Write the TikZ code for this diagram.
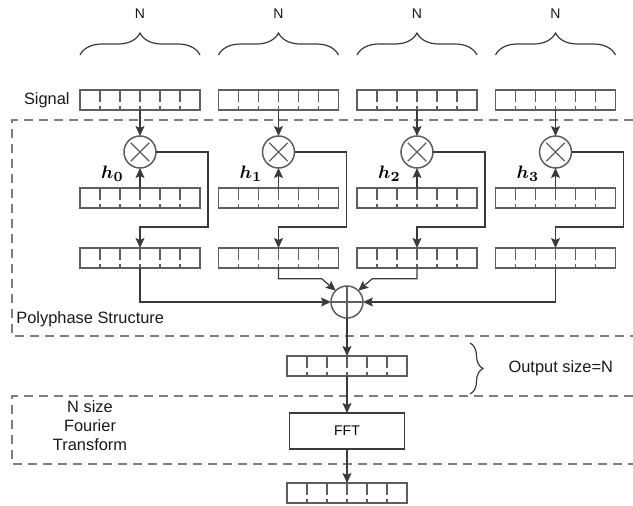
\documentclass[tikz,border=0pt]{standalone}
\usepackage{amsmath,amssymb}
\usepackage{fontspec}
\setmainfont{Liberation Sans}
\usetikzlibrary{positioning,calc,arrows.meta,decorations.pathreplacing}

\definecolor{cellgray}{HTML}{5E5E5E}
\definecolor{wiregray}{HTML}{3A3A3A}
\definecolor{zonegray}{HTML}{7E7E7E}

\tikzset{
  arr/.style={draw=cellgray, line width=0.75pt, rectangle, minimum width=60pt, minimum height=10pt, inner sep=0pt, outer sep=0pt,
    path picture={
      \foreach \k in {1,...,5}
        \draw[cellgray, line width=0.6pt, dash pattern=on 6pt off 2pt on 2pt off 1pt]
          ($(path picture bounding box.north west)!\k/6!(path picture bounding box.north east)$) -- ++(0,-10pt);
    }},
  mulnode/.style={circle, draw=cellgray, line width=0.75pt, minimum size=16pt, inner sep=0pt, outer sep=0pt,
    path picture={
      \draw[cellgray, line width=0.7pt] ($(path picture bounding box.center)+(45:6.5pt)$) -- ($(path picture bounding box.center)+(225:6.5pt)$);
      \draw[cellgray, line width=0.7pt] ($(path picture bounding box.center)+(135:6.5pt)$) -- ($(path picture bounding box.center)+(315:6.5pt)$);
    }},
  sumnode/.style={circle, draw=cellgray, line width=0.75pt, minimum size=16pt, inner sep=0pt, outer sep=0pt,
    path picture={
      \draw[cellgray, line width=0.7pt] (path picture bounding box.north) -- (path picture bounding box.south);
      \draw[cellgray, line width=0.7pt] (path picture bounding box.west) -- (path picture bounding box.east);
    }},
  blk/.style={draw=wiregray, line width=0.75pt, rectangle, minimum width=57.5pt, minimum height=18pt, inner sep=0pt, outer sep=0pt, font=\fontsize{7}{8}\selectfont},
  conn/.style={draw=wiregray, line width=0.6pt, -{Stealth[length=5pt,width=4.5pt,inset=1pt]}},
  zone/.style={draw=zonegray, line width=1pt, dash pattern=on 4.5pt off 3pt},
  topbrace/.style={draw=wiregray, line width=0.6pt, decorate, decoration={brace, amplitude=11pt}},
  outbrace/.style={draw=wiregray, line width=0.6pt, decorate, decoration={brace, amplitude=6.5pt}},
  lbl/.style={font=\fontsize{8.2}{9.5}\selectfont, text=black!90, inner sep=0pt},
  nlab/.style={font=\fontsize{7}{8}\selectfont, text=black!90, inner sep=0pt},
  hlab/.style={font=\fontsize{9.5}{10}\selectfont, inner sep=0pt}
}

\begin{document}
\begin{tikzpicture}[x=0.5pt, y=-0.5pt]
  \useasboundingbox (0,0) rectangle (633,505);

  % dashed groups
  \draw[zone] (633,120) -| (12,336) -- (633,336);
  \draw[zone] (633,396) -| (12,464) -- (633,464);

  % input blocks
  \node[arr] (sig0) at (140,100) {};
  \node[arr, right=9.25pt of sig0] (sig1) {};
  \node[arr, right=9.25pt of sig1] (sig2) {};
  \node[arr, right=9.25pt of sig2] (sig3) {};
  \node[lbl, left=5pt of sig0] (siglab) {Signal};

  % multipliers, coefficients and delayed blocks
  \node[mulnode, below=13pt of sig0] (mul0) {};
  \node[mulnode, below=13pt of sig1] (mul1) {};
  \node[mulnode, below=13pt of sig2] (mul2) {};
  \node[mulnode, below=13pt of sig3] (mul3) {};
  \node[arr, below=10pt of mul0] (coef0) {};
  \node[arr, below=10pt of mul1] (coef1) {};
  \node[arr, below=10pt of mul2] (coef2) {};
  \node[arr, below=10pt of mul3] (coef3) {};
  \node[arr, below=20pt of coef0] (buf0) {};
  \node[arr, below=20pt of coef1] (buf1) {};
  \node[arr, below=20pt of coef2] (buf2) {};
  \node[arr, below=20pt of coef3] (buf3) {};
  \node[hlab, above left=3pt and 8pt of coef0.north] (h0) {$\boldsymbol{h_0}$};
  \node[hlab, above left=3pt and 8pt of coef1.north] (h1) {$\boldsymbol{h_1}$};
  \node[hlab, above left=3pt and 8pt of coef2.north] (h2) {$\boldsymbol{h_2}$};
  \node[hlab, above left=3pt and 8pt of coef3.north] (h3) {$\boldsymbol{h_3}$};

  % adder and output chain
  \node[sumnode] (sum) at (347,302) {};
  \node[arr, below=19pt of sum] (outbuf) {};
  \node[blk, below=18.5pt of outbuf] (fft) {FFT};
  \node[arr, below=17pt of fft] (spec) {};

  % labels
  \node[lbl, anchor=west] (polylab) at (16,319) {Polyphase Structure};
  \node[lbl, align=center] (fftlab) at (90,426) {N size\\Fourier\\Transform};

  % braces
  \draw[topbrace] ($(sig0.north west)+(0,17.5pt)$) -- node[nlab, above=18pt] (n0) {N} ($(sig0.north east)+(0,17.5pt)$);
  \draw[topbrace] ($(sig1.north west)+(0,17.5pt)$) -- node[nlab, above=18pt] (n1) {N} ($(sig1.north east)+(0,17.5pt)$);
  \draw[topbrace] ($(sig2.north west)+(0,17.5pt)$) -- node[nlab, above=18pt] (n2) {N} ($(sig2.north east)+(0,17.5pt)$);
  \draw[topbrace] ($(sig3.north west)+(0,17.5pt)$) -- node[nlab, above=18pt] (n3) {N} ($(sig3.north east)+(0,17.5pt)$);
  \draw[outbrace] (470,343) -- node[lbl, right=19pt] (outlab) {Output size=N} (470,394);

  % arrows
  \draw[conn] (sig0) -- (mul0);
  \draw[conn] (sig1) -- (mul1);
  \draw[conn] (sig2) -- (mul2);
  \draw[conn] (sig3) -- (mul3);
  \draw[conn] (coef0) -- (mul0);
  \draw[conn] (coef1) -- (mul1);
  \draw[conn] (coef2) -- (mul2);
  \draw[conn] (coef3) -- (mul3);
  \draw[conn] (mul0.east) -- ++(26pt,0) |- ($(buf0.north)+(0,10.5pt)$) -- (buf0.north);
  \draw[conn] (mul1.east) -- ++(26pt,0) |- ($(buf1.north)+(0,10.5pt)$) -- (buf1.north);
  \draw[conn] (mul2.east) -- ++(26pt,0) |- ($(buf2.north)+(0,10.5pt)$) -- (buf2.north);
  \draw[conn] (mul3.east) -- ++(26pt,0) |- ($(buf3.north)+(0,10.5pt)$) -- (buf3.north);
  \draw[conn] (buf0.south) |- (sum.west);
  \draw[conn] (buf1.south) |- ($(sum.135)+(-7pt,6pt)$) -- (sum.135);
  \draw[conn] (buf2.south) |- ($(sum.45)+(7pt,6pt)$) -- (sum.45);
  \draw[conn] (buf3.south) |- (sum.east);
  \draw[conn] (sum) -- (outbuf);
  \draw[conn] (outbuf) -- (fft);
  \draw[conn] (fft) -- (spec);
\end{tikzpicture}
\end{document}
